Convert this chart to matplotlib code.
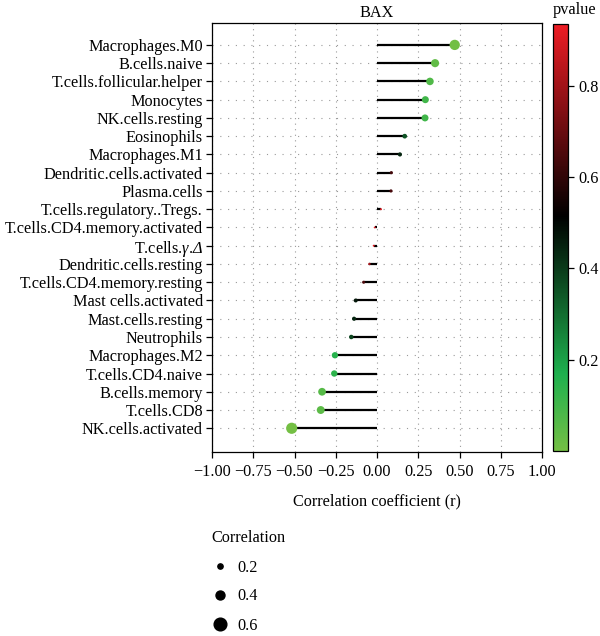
import numpy as np
import matplotlib
matplotlib.use("Agg")
import matplotlib.pyplot as plt
from matplotlib.colors import LinearSegmentedColormap, Normalize
from matplotlib.lines import Line2D

plt.rcParams['font.family'] = ['Liberation Serif', 'DejaVu Serif']
plt.rcParams['mathtext.fontset'] = 'custom'
plt.rcParams['mathtext.rm'] = 'Liberation Serif:italic'
plt.rcParams['mathtext.it'] = 'Liberation Serif:italic'

title = "BAX"
cells = ["Macrophages.M0", "B.cells.naive", "T.cells.follicular.helper", "Monocytes",
         "NK.cells.resting", "Eosinophils", "Macrophages.M1", "Dendritic.cells.activated",
         "Plasma.cells", "T.cells.regulatory..Tregs.", "T.cells.CD4.memory.activated",
         r"T.cells.$\gamma$.$\Delta$", "Dendritic.cells.resting", "T.cells.CD4.memory.resting",
         "Mast cells.activated", "Mast.cells.resting", "Neutrophils", "Macrophages.M2",
         "T.cells.CD4.naive", "B.cells.memory", "T.cells.CD8", "NK.cells.activated"]
correlation = [0.471, 0.352, 0.321, 0.293, 0.291, 0.168, 0.139, 0.087, 0.085, 0.024,
               -0.014, -0.020, -0.046, -0.081, -0.129, -0.139, -0.156, -0.255,
               -0.259, -0.333, -0.341, -0.517]
pvalue = [0.006, 0.04, 0.07, 0.10, 0.10, 0.35, 0.44, 0.63, 0.64, 0.90,
          0.93, 0.91, 0.80, 0.65, 0.47, 0.44, 0.38, 0.15,
          0.14, 0.06, 0.05, 0.002]
x_ticks = [-1.00, -0.75, -0.50, -0.25, 0.00, 0.25, 0.50, 0.75, 1.00]
cbar_ticks = [0.2, 0.4, 0.6, 0.8]
legend_sizes = [0.2, 0.4, 0.6]

cmap = LinearSegmentedColormap.from_list(
    "pv", [(0.0, "#74BF44"), (0.18, "#1EB04E"), (0.55, "#000000"), (1.0, "#ED1C24")])
norm = Normalize(vmin=0.0, vmax=0.935)

PX2PT = 72 / 100.0
def msize(v):
    d_px = 1.6 + 18.5 * abs(v)
    return d_px * PX2PT

FS = 11.7

fig = plt.figure(figsize=(6.0, 6.36), dpi=100)
ax = fig.add_axes([212 / 600, 1 - 452 / 636, 330 / 600, 429 / 636])

n = len(cells)
ypos = np.arange(n)[::-1] + 1  # top row first

# grid
for xt in x_ticks:
    ax.axvline(xt, color="#9a9a9a", lw=0.8, ls=(0, (1, 4)), zorder=0)
for y in ypos:
    ax.axhline(y, color="#9a9a9a", lw=0.8, ls=(0, (1, 6)), zorder=0)

corr = np.array(correlation)
ax.hlines(ypos, 0, corr, color="black", lw=1.6, zorder=2)
sizes = np.array([msize(v) ** 2 for v in corr])
sc = ax.scatter(corr, ypos, s=sizes, c=pvalue, cmap=cmap, norm=norm,
                zorder=3, linewidths=0)

ax.set_xlim(-1.0, 1.0)
ax.set_ylim(1 - 1.3, n + 1.2)
ax.set_xticks(x_ticks)
ax.set_xticklabels([f"{t:.2f}".replace("-", "\u2212") for t in x_ticks])
ax.set_yticks(ypos)
ax.set_yticklabels(cells)
ax.tick_params(axis="both", labelsize=FS, length=4.5, width=0.9, color="black",
               labelcolor="black", pad=2)
ax.tick_params(axis="x", pad=4)
for sp in ax.spines.values():
    sp.set_linewidth(0.9)
ax.set_xlabel("Correlation coefficient (r)", fontsize=FS, labelpad=10)
ax.set_title(title, fontsize=FS, pad=4)

# colorbar
cax = fig.add_axes([553 / 600, 1 - 451 / 636, 15 / 600, 427 / 636])
cb = fig.colorbar(sc, cax=cax)
cb.set_ticks(cbar_ticks)
cb.ax.tick_params(labelsize=FS, length=4, width=0.9)
cb.outline.set_linewidth(0.9)
fig.text(553 / 600, 1 - 10 / 636, "pvalue", fontsize=FS, ha="left", va="center")

# size legend
handles = [Line2D([], [], ls="none", marker="o", color="black",
                  markersize=msize(v)) for v in legend_sizes]
leg = fig.legend(handles, [f"{v:.1f}" for v in legend_sizes], title="Correlation",
                 loc="upper left", bbox_to_anchor=(205 / 600, 1 - 524 / 636),
                 frameon=False, fontsize=FS, title_fontsize=FS,
                 labelspacing=0.8, handletextpad=0.5, handlelength=1.1,
                 alignment="left", borderaxespad=0)

fig.savefig("out.png", dpi=100)
